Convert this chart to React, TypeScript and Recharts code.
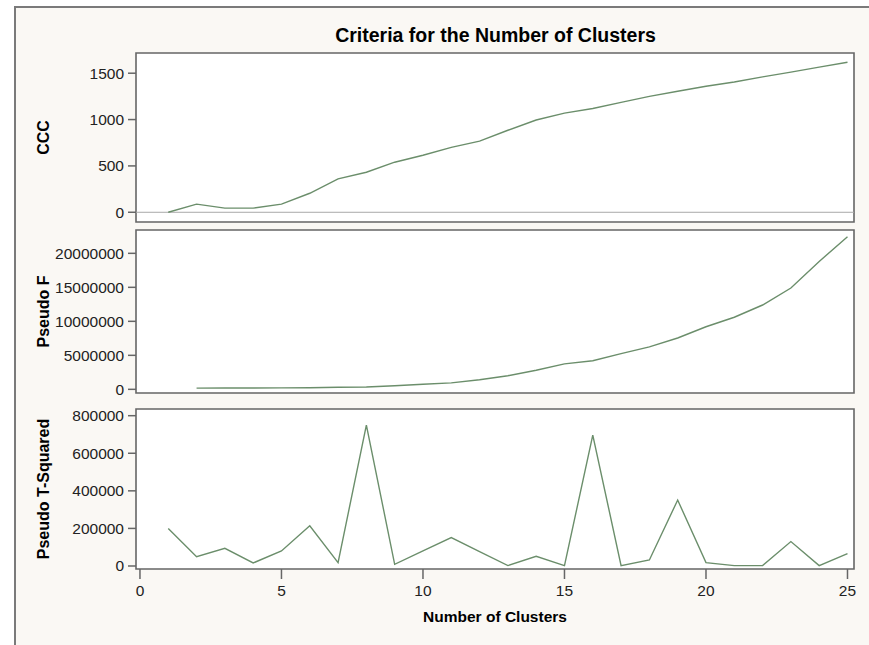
import React from 'react'
import { LineChart, Line, XAxis, YAxis, ReferenceLine, ReferenceArea, Label } from 'recharts'

const clusters = [1, 2, 3, 4, 5, 6, 7, 8, 9, 10, 11, 12, 13, 14, 15, 16, 17, 18, 19, 20, 21, 22, 23, 24, 25]

const ccc = [0, 88, 45, 45, 88, 205, 360, 432, 540, 615, 700, 768, 885, 995, 1070, 1120, 1185, 1250, 1305, 1360, 1405, 1460, 1512, 1566, 1618]

const pseudoF = [null, 180000, 190000, 200000, 210000, 230000, 300000, 350000, 520000, 750000, 950000, 1400000, 2000000, 2800000, 3750000, 4200000, 5250000, 6250000, 7550000, 9200000, 10600000, 12400000, 14900000, 18800000, 22450000]

const pseudoT2 = [200000, 49000, 94000, 16000, 80000, 214000, 18000, 750000, 9000, 80000, 151000, 76000, 2000, 52000, 2000, 697000, 2000, 32000, 351000, 18000, 2000, 2000, 130000, 2000, 66000]

const xTicks = [0, 5, 10, 15, 20, 25]
const cccTicks = [0, 500, 1000, 1500]
const fTicks = [0, 5000000, 10000000, 15000000, 20000000]
const t2Ticks = [0, 200000, 400000, 600000, 800000]

const data = clusters.map((k, i) => ({ k, ccc: ccc[i], f: pseudoF[i], t2: pseudoT2[i] }))

const FONT = '"Liberation Sans", Arial, sans-serif'
const LINE = '#6b8e6b'
const FRAME = '#666666'
const xDomain: [number, number] = [-0.14, 25.23]

const tickStyle = { fill: '#222', fontSize: 15.5, fontFamily: FONT }

const yTitle = (text: string) => (props: any) => {
  const vb = props.viewBox || { y: 0, height: 0 }
  const cy = vb.y + vb.height / 2
  return (
    <text
      x={43}
      y={cy}
      transform={`rotate(-90 43 ${cy})`}
      textAnchor="middle"
      dominantBaseline="central"
      fontFamily={FONT}
      fontSize={16}
      fontWeight="bold"
      fill="#000"
    >
      {text}
    </text>
  )
}

const xTitle = (props: any) => {
  const vb = props.viewBox || { x: 0, width: 0, y: 0 }
  return (
    <text
      x={vb.x + vb.width / 2}
      y={vb.y + 47}
      textAnchor="middle"
      dominantBaseline="central"
      fontFamily={FONT}
      fontSize={15.5}
      fontWeight="bold"
      fill="#000"
    >
      Number of Clusters
    </text>
  )
}

function Panel({ top, height, dataKey, domain, ticks, title, bottomAxis, zeroLine }: any) {
  return (
    <div style={{ position: 'absolute', left: 0, top, width: 869, height }}>
      <LineChart
        width={869}
        height={height}
        data={data}
        margin={{ top: 8, right: 15, left: 0, bottom: bottomAxis ? 16 : 8 }}
      >
        <XAxis
          type="number"
          dataKey="k"
          domain={xDomain}
          allowDataOverflow
          ticks={xTicks}
          hide={!bottomAxis}
          height={bottomAxis ? 60 : 0}
          axisLine={false}
          tickLine={{ stroke: FRAME, strokeWidth: 1.5 }}
          tickSize={10}
          tickMargin={6}
          tick={tickStyle}
        >
          {bottomAxis && <Label content={xTitle} />}
        </XAxis>
        <YAxis
          type="number"
          domain={domain}
          allowDataOverflow
          ticks={ticks}
          width={136}
          axisLine={false}
          tickLine={{ stroke: FRAME, strokeWidth: 1.5 }}
          tickSize={8}
          tickMargin={4}
          tick={tickStyle}
        >
          <Label content={yTitle(title)} />
        </YAxis>
        <ReferenceArea x1={xDomain[0]} x2={xDomain[1]} y1={domain[0]} y2={domain[1]} fill="#ffffff" fillOpacity={1} stroke="none" />
        {zeroLine && <ReferenceLine y={0} stroke="#a8a8a8" strokeWidth={1} />}
        <Line
          type="linear"
          dataKey={dataKey}
          stroke={LINE}
          strokeWidth={1.4}
          dot={false}
          connectNulls={false}
          isAnimationActive={false}
        />
        <ReferenceArea x1={xDomain[0]} x2={xDomain[1]} y1={domain[0]} y2={domain[1]} fill="none" stroke={FRAME} strokeWidth={1.6} />
      </LineChart>
    </div>
  )
}

export default function App() {
  return (
    <div style={{ position: 'absolute', left: 0, top: 0, width: 869, height: 645, background: '#ffffff', overflow: 'hidden' }}>
      <div
        style={{
          position: 'absolute',
          left: 14,
          top: 6,
          width: 900,
          height: 700,
          border: '2px solid #7a7a7a',
          background: '#faf8f4',
        }}
      />
      <div
        style={{
          position: 'absolute',
          left: 0,
          width: 991,
          top: 23,
          textAlign: 'center',
          fontFamily: FONT,
          fontSize: 19.5,
          fontWeight: 'bold',
          color: '#000',
          lineHeight: '24px',
        }}
      >
        Criteria for the Number of Clusters
      </div>
      <Panel top={45} height={185} dataKey="ccc" domain={[-105, 1718]} ticks={cccTicks} title="CCC" zeroLine />
      <Panel top={222} height={179} dataKey="f" domain={[-540000, 23430000]} ticks={fTicks} title="Pseudo F" />
      <Panel top={401} height={244} dataKey="t2" domain={[-16000, 835600]} ticks={t2Ticks} title="Pseudo T-Squared" bottomAxis />
    </div>
  )
}
